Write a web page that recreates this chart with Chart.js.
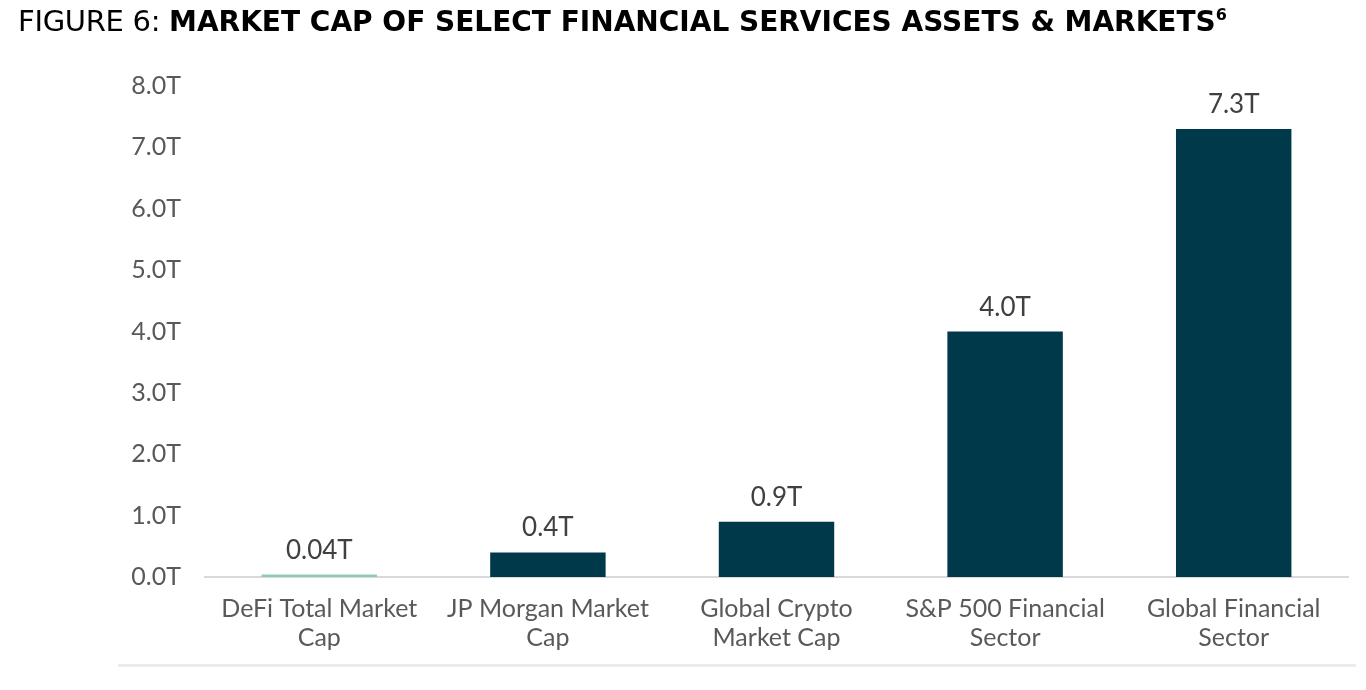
<!DOCTYPE html>
<html>
<head>
<meta charset="utf-8">
<script src="https://cdn.jsdelivr.net/npm/chart.js@4.4.1/dist/chart.umd.min.js"></script>
<style>
  html, body { margin: 0; padding: 0; background: #fff; }
  #title {
    position: absolute; left: 18px; top: 4px;
    font-family: "DejaVu Sans", Verdana, sans-serif;
    font-size: 29px; color: #000; white-space: nowrap;
    letter-spacing: -0.3px;
  }
  #title b { font-weight: bold; font-size: 28px; letter-spacing: 0; }
  #title sup { font-size: 16px; vertical-align: 11px; }
  #wrap { position: absolute; left: 0; top: 0; width: 1366px; height: 690px; }
  #rule { position: absolute; left: 118px; top: 664px; width: 1238px; height: 3px; background: #ececec; }
</style>
</head>
<body>
<div id="wrap"><canvas id="bar-chart"></canvas></div>
<div id="title">FIGURE 6: <b>MARKET CAP OF SELECT FINANCIAL SERVICES ASSETS &amp; MARKETS<sup>6</sup></b></div>
<div id="rule"></div>
<script>
const categories = [
    ["DeFi Total Market", "Cap"],
    ["JP Morgan Market", "Cap"],
    ["Global Crypto", "Market Cap"],
    ["S&P 500 Financial", "Sector"],
    ["Global Financial", "Sector"],
];
const values = [0.04, 0.4, 0.9, 4.0, 7.3];
const valueLabels = ["0.04T", "0.4T", "0.9T", "4.0T", "7.3T"];
const barColors = ["#8fcab4", "#003a4a", "#003a4a", "#003a4a", "#003a4a"];

const FONT = "Lato, 'Open Sans', sans-serif";

// value labels above each bar
const valueLabelPlugin = {
    id: "valueLabels",
    afterDatasetsDraw(chart) {
        const ctx = chart.ctx;
        const meta = chart.getDatasetMeta(0);
        ctx.save();
        ctx.font = "26px " + FONT;
        ctx.fillStyle = "#404040";
        ctx.textAlign = "center";
        ctx.textBaseline = "alphabetic";
        meta.data.forEach((bar, i) => {
            ctx.fillText(valueLabels[i], bar.x, bar.y - 16);
        });
        ctx.restore();
    },
};

const canvas = document.getElementById("bar-chart");
new Chart(canvas.getContext("2d"), {
    type: "bar",
    data: {
        labels: categories,
        datasets: [{
            data: values,
            backgroundColor: barColors,
            barPercentage: 0.505,
            categoryPercentage: 1,
        }],
    },
    options: {
        responsive: true,
        maintainAspectRatio: false,
        animation: false,
        layout: { padding: { top: 86, right: 18, left: 0, bottom: 0 } },
        plugins: {
            legend: { display: false },
            tooltip: { enabled: false },
        },
        scales: {
            x: {
                grid: { display: false },
                border: { display: true, color: "#d9d9d9", width: 2 },
                ticks: {
                    color: "#595959",
                    font: { family: FONT, size: 25, lineHeight: 1.17 },
                    padding: 9,
                    maxRotation: 0,
                },
                afterFit(scale) { scale.height = 113; },
            },
            y: {
                min: 0,
                max: 8,
                grid: { display: false },
                border: { display: false },
                ticks: {
                    stepSize: 1,
                    color: "#595959",
                    font: { family: FONT, size: 25 },
                    padding: 16,
                    callback: (v) => v.toFixed(1) + "T",
                },
                afterFit(scale) { scale.width = 205; },
            },
        },
    },
    plugins: [valueLabelPlugin],
});
</script>
</body>
</html>
